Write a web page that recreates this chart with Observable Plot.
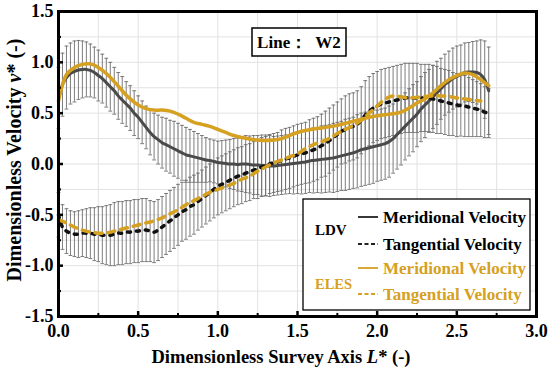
<!DOCTYPE html>
<html>
<head>
<meta charset="utf-8">
<script src="https://cdn.jsdelivr.net/npm/d3@7"></script>
<script src="https://cdn.jsdelivr.net/npm/@observablehq/plot@0.6"></script>
<style>
  html, body { margin: 0; padding: 0; background: white; }
  #chart { width: 550px; height: 367px; }
</style>
</head>
<body>
<div id="chart"></div>
<script>
// ---------- DATA ----------
const ldvX = [0,0.025,0.05,0.075,0.1,0.125,0.15,0.175,0.2,0.225,0.25,0.275,0.3,0.325,0.35,0.375,0.4,0.425,0.45,0.475,0.5,0.525,0.55,0.575,0.6,0.625,0.65,0.675,0.7,0.725,0.75,0.775,0.8,0.825,0.85,0.875,0.9,0.925,0.95,0.975,1,1.025,1.05,1.075,1.1,1.125,1.15,1.175,1.2,1.225,1.25,1.275,1.3,1.325,1.35,1.375,1.4,1.425,1.45,1.475,1.5,1.525,1.55,1.575,1.6,1.625,1.65,1.675,1.7,1.725,1.75,1.775,1.8,1.825,1.85,1.875,1.9,1.925,1.95,1.975,2,2.025,2.05,2.075,2.1,2.125,2.15,2.175,2.2,2.225,2.25,2.275,2.3,2.325,2.35,2.375,2.4,2.425,2.45,2.475,2.5,2.525,2.55,2.575,2.6,2.625,2.65,2.675,2.7];

const ldvMeridional = [
  0.65,0.78,0.85,0.89,0.91,0.925,0.93,0.93,0.92,0.90,
  0.87,0.84,0.80,0.76,0.72,0.67,0.63,0.59,0.55,0.50,
  0.46,0.41,0.36,0.31,0.27,0.24,0.21,0.19,0.17,0.15,
  0.13,0.11,0.09,0.08,0.07,0.06,0.05,0.04,0.035,0.025,
  0.015,0.01,0.005,0,0,-0.005,0,0,-0.005,-0.01,
  -0.01,-0.015,-0.015,-0.02,-0.02,-0.015,-0.01,-0.005,0,0.005,
  0.01,0.015,0.02,0.03,0.035,0.04,0.045,0.05,0.055,0.06,
  0.07,0.08,0.09,0.10,0.11,0.125,0.14,0.15,0.16,0.17,
  0.18,0.19,0.20,0.22,0.25,0.29,0.33,0.37,0.41,0.45,
  0.49,0.54,0.58,0.62,0.66,0.70,0.74,0.78,0.81,0.84,
  0.86,0.88,0.90,0.905,0.905,0.90,0.88,0.83,0.72];

const ldvMeridionalErr = [
  0.30,0.31,0.31,0.30,0.30,0.29,
  0.28,0.27,0.26,0.25,0.25,0.24,0.24,0.24,0.23,0.23,0.23,0.22,0.22,
  0.22,0.21,0.21,0.21,0.22,0.23,0.24,0.25,0.26,0.26,0.27,0.27,0.27,0.27,0.26,0.25,0.24,0.23,0.22,0.21,
  0.21,0.21,0.22,0.23,0.24,0.25,0.26,0.27,0.28,0.28,0.29,0.29,0.30,0.30,0.30,0.29,0.29,0.29,
  0.29,0.29,0.30,0.30,0.31,0.31,0.31,0.32,0.32,0.33,0.33,0.33,0.34,0.34,0.34,0.35,0.35,0.35,0.36,0.36,0.36,0.36,0.36,0.35,
  0.35,0.35,0.35,0.34,0.34,0.34,0.33,0.33,0.33,0.32,0.32,0.32,0.31,0.31,0.31,0.30,0.30,0.30,0.30,0.30,0.29,0.29,0.29,0.30,0.31,0.34,0.38,0.43];

const ldvTangential = [
  -0.50,-0.62,-0.66,-0.68,-0.69,-0.69,-0.68,-0.68,-0.68,-0.69,
  -0.69,-0.70,-0.70,-0.70,-0.69,-0.68,-0.68,-0.67,-0.67,-0.66,
  -0.66,-0.65,-0.65,-0.66,-0.67,-0.65,-0.62,-0.59,-0.56,-0.53,
  -0.50,-0.47,-0.45,-0.42,-0.40,-0.37,-0.34,-0.31,-0.28,-0.25,
  -0.22,-0.20,-0.18,-0.16,-0.14,-0.12,-0.11,-0.09,-0.08,-0.06,
  -0.05,-0.03,-0.02,0,0.01,0.02,0.035,0.05,0.06,0.075,
  0.09,0.10,0.11,0.125,0.14,0.155,0.18,0.20,0.23,0.26,
  0.29,0.32,0.34,0.36,0.37,0.39,0.43,0.48,0.52,0.55,
  0.57,0.59,0.60,0.61,0.62,0.63,0.64,0.65,0.65,0.65,
  0.65,0.65,0.65,0.65,0.64,0.63,0.62,0.61,0.60,0.59,
  0.58,0.575,0.57,0.56,0.55,0.54,0.53,0.51,0.50];

const ldvTangentialErr = [
  0.22,0.22,0.22,0.22,0.22,0.23,0.23,0.24,0.25,
  0.26,0.27,0.28,0.29,0.30,0.31,0.31,0.31,0.31,0.31,0.31,0.31,
  0.31,0.31,0.30,0.30,0.30,0.30,0.30,0.30,0.30,0.30,0.29,0.29,0.29,0.29,0.28,0.28,0.28,0.28,0.28,0.28,
  0.28,0.28,0.28,0.28,0.28,0.28,0.28,0.28,0.28,0.29,0.29,0.29,0.29,0.29,0.29,0.30,0.30,0.30,0.30,0.30,
  0.30,0.30,0.31,0.31,0.31,0.31,0.32,0.32,0.32,0.32,0.32,0.33,0.33,0.33,0.33,0.33,0.34,0.34,0.34,0.34,
  0.34,0.34,0.34,0.34,0.34,0.34,0.34,0.34,0.34,0.34,0.33,0.33,0.33,0.33,0.33,0.32,0.32,0.32,0.31,0.31,0.30,0.30,0.29,0.28,0.27,0.26,0.25,0.24];

const elesX = [0,0.05,0.1,0.15,0.2,0.25,0.3,0.35,0.4,0.45,0.5,0.55,0.6,0.65,0.7,0.75,0.8,0.85,0.9,0.95,1,1.05,1.1,1.15,1.2,1.25,1.3,1.35,1.4,1.45,1.5,1.55,1.6,1.65,1.7,1.75,1.8,1.85,1.9,1.95,2,2.05,2.1,2.15,2.2,2.25,2.3,2.35,2.4,2.45,2.5,2.55,2.6,2.65,2.7];

const elesMeridional = [
  0.62,0.88,0.95,0.98,0.985,0.95,0.89,0.81,0.72,0.64,
  0.58,0.545,0.53,0.53,0.52,0.49,0.45,0.41,0.39,0.37,
  0.34,0.31,0.28,0.26,0.245,0.235,0.23,0.235,0.25,0.28,
  0.31,0.33,0.345,0.355,0.365,0.38,0.40,0.42,0.44,0.46,
  0.475,0.485,0.495,0.51,0.55,0.60,0.64,0.70,0.77,0.83,
  0.87,0.895,0.88,0.83,0.77];

const elesTangential = [
  -0.55,-0.58,-0.62,-0.65,-0.67,-0.68,-0.68,-0.66,-0.64,-0.62,
  -0.60,-0.58,-0.56,-0.53,-0.49,-0.45,-0.40,-0.36,-0.32,-0.28,
  -0.25,-0.22,-0.19,-0.15,-0.12,-0.07,-0.03,0.01,0.04,0.07,
  0.10,0.15,0.19,0.22,0.25,0.30,0.34,0.38,0.43,0.50,
  0.57,0.64,0.67,0.66,0.65,0.655,0.665,0.67,0.67,0.665,
  0.65,0.64,0.63,0.62];

const xMajor = [0,0.5,1,1.5,2,2.5,3];
const xMinor = [0.25,0.75,1.25,1.75,2.25,2.75];
const yMajor = [-1.5,-1,-0.5,0,0.5,1,1.5];
const yMinor = [-1.25,-0.75,-0.25,0.25,0.75,1.25];
const gridX = [0.25,0.5,0.75,1,1.25,1.5,1.75,2,2.25,2.5,2.75];
const gridY = [-1.25,-1,-0.75,-0.5,-0.25,0,0.25,0.5,0.75,1,1.25];

const legendItems = ["Meridional Velocity","Tangential Velocity","Meridional Velocity","Tangential Velocity"];

// ---------- BUILD ----------
const ldv = ldvX.map((x, i) => ({x, mer: ldvMeridional[i], merErr: ldvMeridionalErr[i], tan: ldvTangential[i], tanErr: ldvTangentialErr[i]}));
const elesM = elesX.map((x, i) => ({x, v: elesMeridional[i]}));
const elesT = elesTangential.map((v, i) => ({x: elesX[i], v}));

const GOLD = "#D6A020";
const ERR = "#6e6e6e";
const serif = "'Liberation Serif','Times New Roman',serif";
const W = 550, H = 367, mL = 58, mR = 14, mT = 11, mB = 51;
const fw = W - mL - mR, fh = H - mT - mB;

const cap = {draw(ctx, size) { const w = Math.sqrt(size) * 0.9; ctx.moveTo(-w, 0); ctx.lineTo(w, 0); }};

const errMarks = (key, errKey) => [
  Plot.ruleX(ldv, {x: "x", y1: d => d[key] - d[errKey], y2: d => d[key] + d[errKey], stroke: ERR, strokeWidth: 0.9}),
  Plot.dot(ldv, {x: "x", y: d => d[key] + d[errKey], symbol: cap, r: 1.2, stroke: ERR, fill: "none", strokeWidth: 0.9}),
  Plot.dot(ldv, {x: "x", y: d => d[key] - d[errKey], symbol: cap, r: 1.2, stroke: ERR, fill: "none", strokeWidth: 0.9})
];

const svg = Plot.plot({
  width: W, height: H,
  marginLeft: mL, marginRight: mR, marginTop: mT, marginBottom: mB,
  style: {fontFamily: serif, fontWeight: "bold", fontSize: "18px", color: "black", background: "white"},
  x: {domain: [0, 3]},
  y: {domain: [-1.5, 1.5]},
  marks: [
    Plot.gridX(gridX, {stroke: "#e2e2e2", strokeOpacity: 1, strokeWidth: 1}),
    Plot.gridY(gridY, {stroke: "#e2e2e2", strokeOpacity: 1, strokeWidth: 1}),
    ...errMarks("mer", "merErr"),
    ...errMarks("tan", "tanErr"),
    Plot.line(ldv, {x: "x", y: "mer", stroke: "#4a4a4a", strokeWidth: 3, curve: "catmull-rom"}),
    Plot.line(ldv, {x: "x", y: "tan", stroke: "#111", strokeWidth: 3.5, strokeDasharray: "3,6", curve: "catmull-rom"}),
    Plot.line(elesM, {x: "x", y: "v", stroke: GOLD, strokeWidth: 3.5, curve: "catmull-rom"}),
    Plot.line(elesT, {x: "x", y: "v", stroke: GOLD, strokeWidth: 3.5, strokeDasharray: "7,6", curve: "catmull-rom"}),
    Plot.tickX(xMajor, {x: d => d, stroke: "black", strokeWidth: 2.5, insetTop: fh - 5}),
    Plot.tickX(xMinor, {x: d => d, stroke: "black", strokeWidth: 2, insetTop: fh - 3}),
    Plot.tickY(yMajor, {y: d => d, stroke: "black", strokeWidth: 2.5, insetRight: fw - 5}),
    Plot.tickY(yMinor, {y: d => d, stroke: "black", strokeWidth: 2, insetRight: fw - 3}),
    Plot.axisX(xMajor, {tickSize: 0, tickPadding: 8, tickFormat: d => d.toFixed(1), label: null, fontSize: 18, fontWeight: "bold"}),
    Plot.axisY(yMajor, {tickSize: 0, tickPadding: 5, tickFormat: d => d.toFixed(1), label: null, fontSize: 18, fontWeight: "bold"}),
    Plot.frame({stroke: "black", strokeWidth: 3})
  ]
});
document.getElementById("chart").appendChild(svg);

// ---------- ANNOTATIONS ----------
const s = d3.select(svg);
const fontAttrs = sel => sel.attr("font-family", serif).attr("font-weight", "bold").attr("fill", "black");

// axis titles
const xt = s.append("text").attr("x", 281).attr("y", 363).attr("text-anchor", "middle").attr("font-size", 18.5).call(fontAttrs);
xt.append("tspan").text("Dimensionless Survey Axis ");
xt.append("tspan").attr("font-style", "italic").text("L");
xt.append("tspan").text("* (-)");

const yt = s.append("text").attr("transform", "translate(21,160) rotate(-90)").attr("text-anchor", "middle").attr("font-size", 20).call(fontAttrs);
yt.append("tspan").text("Dimensionless Velocity ");
yt.append("tspan").attr("font-style", "italic").text("v");
yt.append("tspan").text("* (-)");

// title box
s.append("rect").attr("x", 252).attr("y", 28).attr("width", 94).attr("height", 28).attr("fill", "white").attr("stroke", "black").attr("stroke-width", 1.5);
s.append("text").attr("x", 299).attr("y", 48).attr("text-anchor", "middle").attr("font-size", 17).call(fontAttrs).text("Line：  W2");

// legend
s.append("rect").attr("x", 303).attr("y", 199).attr("width", 227).attr("height", 111).attr("fill", "white").attr("stroke", "black").attr("stroke-width", 1.3);
s.append("text").attr("x", 315).attr("y", 235).attr("text-anchor", "start").attr("font-size", 15).call(fontAttrs).text("LDV");
s.append("text").attr("x", 315).attr("y", 289).attr("text-anchor", "start").attr("font-size", 14.5).call(fontAttrs).attr("fill", GOLD).text("ELES");
const rows = [
  {y: 217, color: "#222", dash: null},
  {y: 244, color: "#222", dash: "4,2.5"},
  {y: 268, color: GOLD, dash: null},
  {y: 294, color: GOLD, dash: "4,2.5"}
];
rows.forEach((r, i) => {
  s.append("line").attr("x1", 358).attr("x2", 378).attr("y1", r.y).attr("y2", r.y)
    .attr("stroke", r.color).attr("stroke-width", 1.8).attr("stroke-dasharray", r.dash);
  s.append("text").attr("x", 383).attr("y", r.y + 5.5).attr("text-anchor", "start").attr("font-size", 17).call(fontAttrs)
    .attr("fill", i < 2 ? "black" : GOLD).text(legendItems[i]);
});
</script>
</body>
</html>
